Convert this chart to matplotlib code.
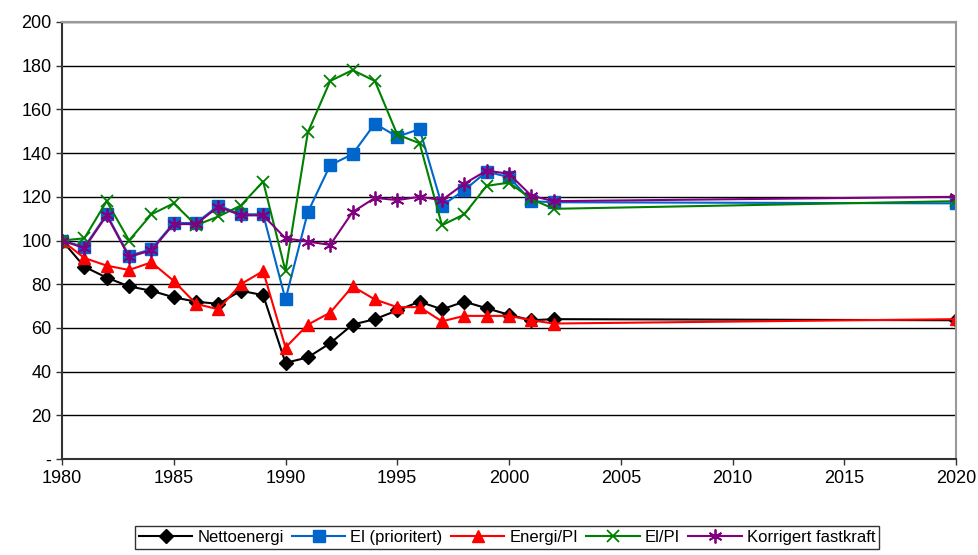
import matplotlib.pyplot as plt
from matplotlib.ticker import FuncFormatter

plt.rcParams['font.family'] = ['Liberation Sans', 'DejaVu Sans']

years = list(range(1980, 2003)) + [2020]

nettoenergi = [100, 88, 83, 79, 77, 74, 72, 71, 77, 75, 44, 46.5, 53, 61.5,
               64, 68, 72, 68.5, 72, 69, 66, 63.5, 64, 63.5]
el_prioritert = [100, 97, 112, 93, 96, 108, 108, 116, 112, 112, 73, 113, 134.5,
                 139.5, 153.5, 147.5, 151, 116, 123, 131.5, 129, 118, 117.5, 117]
energi_pi = [100, 92, 88.5, 86.5, 90, 81.5, 71, 68.5, 80, 86, 51, 61.5, 67, 79,
             73, 69.5, 69.5, 63, 65.5, 65.5, 65.5, 63.5, 62, 64]
el_pi = [100, 101, 118, 100, 112, 117, 107, 111, 116, 127, 86, 149.5, 173, 178,
         173, 148.5, 144.5, 107, 112, 125, 126.5, 119, 114.5, 118]
korrigert = [100, 96.5, 111.5, 92.5, 95.5, 107.5, 107.5, 115.5, 111.5, 111.5,
             101, 99.5, 98, 113, 119.5, 118.5, 120, 118.5, 126, 132, 130.5,
             120.5, 118, 120]

fig = plt.figure(figsize=(9.79, 5.55), dpi=100)
ax = fig.add_axes([62 / 979, 1 - 459 / 555, 894 / 979, 437 / 555])

ax.plot(years, nettoenergi, color='black', marker='D', markersize=7,
        linewidth=1.5, label='Nettoenergi')
ax.plot(years, el_prioritert, color='#0066CC', marker='s', markersize=8,
        linewidth=1.5, label='El (prioritert)')
ax.plot(years, energi_pi, color='#FF0000', marker='^', markersize=9,
        linewidth=1.5, label='Energi/PI')
ax.plot(years, el_pi, color='#008000', marker='x', markersize=9,
        markeredgewidth=1.3, linewidth=1.5, label='El/PI')
ax.plot(years, korrigert, color='#800080', marker=(6, 2, 0), markersize=10,
        markeredgewidth=1.3, linewidth=1.5, label='Korrigert fastkraft')

ax.set_xlim(1980, 2020)
ax.set_ylim(0, 200)
ax.set_xticks(range(1980, 2021, 5))
ax.set_yticks(range(0, 201, 20))
ax.yaxis.set_major_formatter(FuncFormatter(lambda v, p: '-' if v == 0 else f'{v:.0f}'))
ax.grid(axis='y', color='black', linewidth=1)
ax.set_axisbelow(True)
ax.tick_params(labelsize=13, length=4, width=1, color='#333333')
ax.tick_params(axis='x', pad=4)
for side in ['top', 'right']:
    ax.spines[side].set_color('#999999')
    ax.spines[side].set_linewidth(1.5)
for side in ['left', 'bottom']:
    ax.spines[side].set_color('#333333')
    ax.spines[side].set_linewidth(1.5)

leg = fig.legend(loc='upper center', bbox_to_anchor=(507 / 979, 1 - 526 / 555), ncol=5,
                 fontsize=12, frameon=True, fancybox=False, edgecolor='black',
                 handlelength=3.2, handletextpad=0.3, columnspacing=0.5,
                 borderpad=0.25, borderaxespad=0)
leg.get_frame().set_linewidth(1)

fig.savefig('out.png', dpi=100)
